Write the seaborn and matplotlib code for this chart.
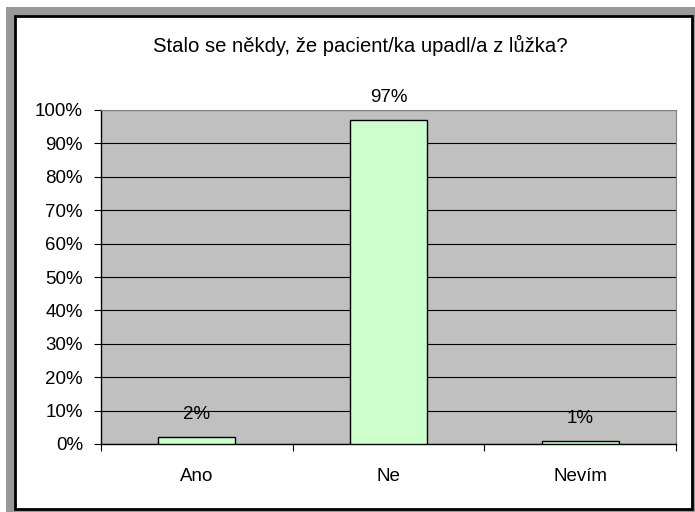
import pandas as pd
import seaborn as sns
import matplotlib.pyplot as plt
from matplotlib.patches import Rectangle
from matplotlib.ticker import PercentFormatter

# Data
categories = ['Ano', 'Ne', 'Nevím']
shares = [0.02, 0.97, 0.01]
bar_labels = ['2%', '97%', '1%']
title = 'Stalo se někdy, že pacient/ka upadl/a z lůžka?'

df = pd.DataFrame({'odpoved': categories, 'podil': shares})

sns.set_theme(style='white')
plt.rcParams['font.family'] = ['Liberation Sans', 'DejaVu Sans']
plt.rcParams['text.color'] = 'black'
plt.rcParams['xtick.color'] = 'black'
plt.rcParams['ytick.color'] = 'black'
fs = 13.5

W, H = 695, 512
fig = plt.figure(figsize=(W / 100, H / 100), dpi=100, facecolor='white')

# Gray frame and white chart area with black border
fig.patches.append(Rectangle((6 / W, 0), 1 - 6 / W, 1 - 7 / H, transform=fig.transFigure,
                             facecolor='#999999', edgecolor='none', zorder=-3))
fig.patches.append(Rectangle((15 / W, 3 / H), 677 / W, 493 / H, transform=fig.transFigure,
                             facecolor='white', edgecolor='black', linewidth=2, zorder=-2))

ax = fig.add_axes([101 / W, 68 / H, 575 / W, 334 / H])
ax.set_facecolor('#C0C0C0')

sns.barplot(data=df, x='odpoved', y='podil', ax=ax, color='#CCFFCC',
            edgecolor='black', linewidth=1, width=0.4, saturation=1, zorder=3)

ax.set_ylim(0, 1)
ax.set_xlim(-0.5, 2.5)
ax.set_yticks([i / 10 for i in range(11)])
ax.yaxis.set_major_formatter(PercentFormatter(1.0, decimals=0))
ax.grid(axis='y', color='black', linewidth=0.8, zorder=1)
ax.grid(axis='x', visible=False)
ax.set_axisbelow(True)

# category labels centred, tick marks at category boundaries
ax.set_xticks([-0.5, 0.5, 1.5, 2.5])
ax.set_xticklabels([])
ax.set_xticks([0, 1, 2], minor=True)
ax.set_xticklabels(categories, minor=True, fontsize=fs)
ax.tick_params(axis='x', which='minor', length=0, pad=17)
ax.tick_params(axis='x', which='major', direction='out', length=5, width=0.8, color='black', bottom=True)
ax.tick_params(axis='y', direction='out', length=5, width=0.8, color='black', left=True, labelsize=fs, pad=8)

ax.set_xlabel('')
ax.set_ylabel('')

for side in ['top', 'right']:
    ax.spines[side].set_color('#808080')
    ax.spines[side].set_linewidth(0.8)
for side in ['left', 'bottom']:
    ax.spines[side].set_color('black')
    ax.spines[side].set_linewidth(1)

ax.bar_label(ax.containers[0], labels=bar_labels, padding=10, fontsize=fs)

fig.text(360 / W, 1 - 45 / H, title, ha='center', va='center', fontsize=14.6)

fig.savefig('out.png', dpi=100)
